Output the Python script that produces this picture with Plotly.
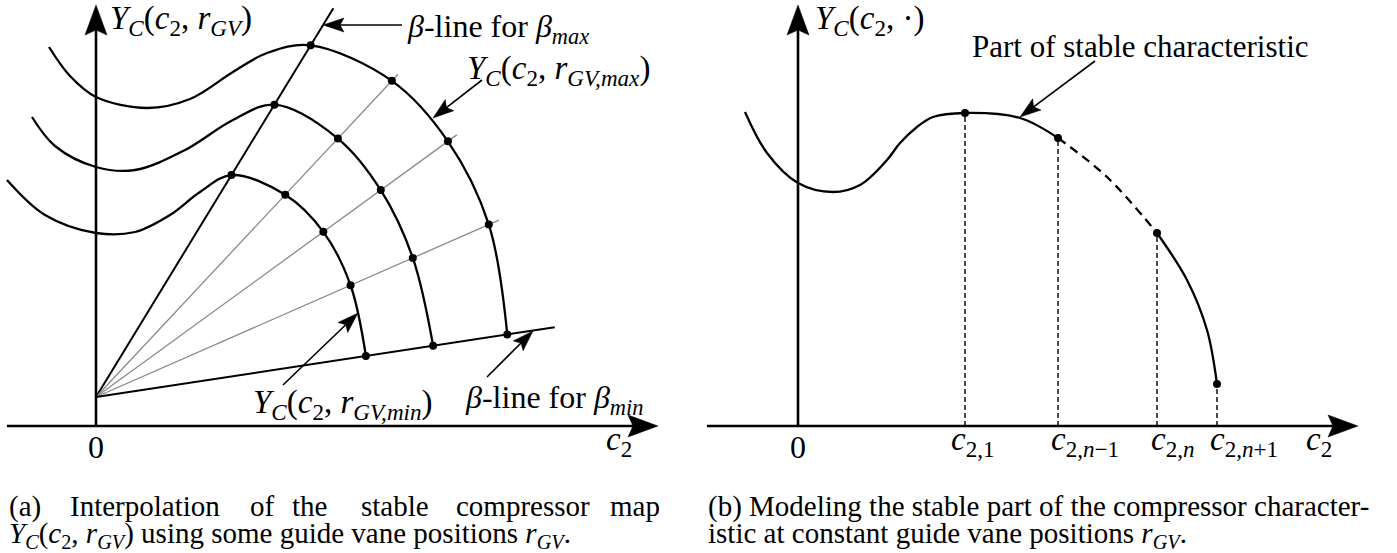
import math
import plotly.graph_objects as go

W, H = 1397, 553
FONT = "Liberation Serif"
FS_CAP = 29      # captions
FS_LAB = 32      # labels inside the diagrams
FS_MATH = 33     # formula labels

# ---------------- panel (a): interpolated compressor map ----------------
RAY_ORIGIN = (0.0, 0.29)
BETA_DEG = [58.6, 46.9, 36.0, 23.7, 8.65]          # beta_max ... beta_min
BETA_LEN = [4.555, 4.42, 4.46, 4.40, 4.64]
R_GV_MIN = [2.60, 2.77, 2.81, 2.78, 2.73]           # radius along each beta line
R_GV_MID = [3.425, 3.54, 3.52, 3.46, 3.41]
R_GV_MAX = [4.12, 4.33, 4.35, 4.29, 4.16]

# unstable branches left of the beta_max line
WAVE_MAX_X = [-0.47, -0.26, 0.0, 0.51, 0.94, 1.37, 1.71]
WAVE_MAX_Y = [3.79, 3.50, 3.29, 3.18, 3.27, 3.54, 3.73]
WAVE_MID_X = [-0.64, -0.41, 0.0, 0.39, 0.89, 1.37]
WAVE_MID_Y = [3.09, 2.80, 2.59, 2.56, 2.76, 3.06]
WAVE_MIN_X = [-0.89, -0.51, 0.0, 0.39, 0.74, 1.04]
WAVE_MIN_Y = [2.46, 2.11, 1.93, 1.94, 2.11, 2.34]

# ---------------- panel (b): single characteristic ----------------
CHAR_X = [-0.53, -0.31, 0.0, 0.35, 0.62, 0.89, 1.02, 1.19, 1.35, 1.67, 2.22, 2.60]
CHAR_Y = [3.14, 2.73, 2.43, 2.34, 2.41, 2.66, 2.83, 2.99, 3.09, 3.13, 3.08, 2.88]
GAP_X = [2.60, 3.09, 3.59]
GAP_Y = [2.88, 2.49, 1.93]
TAIL_X = [3.59, 3.89, 4.09, 4.19]
TAIL_Y = [1.93, 1.46, 0.96, 0.42]
NODE_X = [1.67, 2.60, 3.59, 4.19]
NODE_Y = [3.13, 2.88, 1.93, 0.42]
NODE_LABELS = ["<i>c</i><sub>2,1</sub>", "<i>c</i><sub>2,<i>n</i>−1</sub>",
               "<i>c</i><sub>2,<i>n</i></sub>", "<i>c</i><sub>2,<i>n</i>+1</sub>"]


def polar(r, deg):
    a = math.radians(deg)
    return RAY_ORIGIN[0] + r * math.cos(a), RAY_ORIGIN[1] + r * math.sin(a)


fig = go.Figure()
shapes = []


def add_line(xr, yr, x0, y0, x1, y1, width, color="black", dash="solid"):
    shapes.append(dict(type="line", xref=xr, yref=yr, x0=x0, y0=y0, x1=x1, y1=y1,
                       line=dict(color=color, width=width, dash=dash), layer="above"))


def add_arrow(xr, yr, tail, tip, L, Wd, notch, width):
    dx, dy = tip[0] - tail[0], tip[1] - tail[1]
    n = math.hypot(dx, dy)
    ux, uy = dx / n, dy / n
    nx, ny = -uy, ux
    bx, by = tip[0] - L * ux, tip[1] - L * uy
    mx, my = tip[0] - (L - notch) * ux, tip[1] - (L - notch) * uy
    add_line(xr, yr, tail[0], tail[1], mx, my, width)
    path = (f"M {tip[0]},{tip[1]} L {bx + Wd / 2 * nx},{by + Wd / 2 * ny} "
            f"L {mx},{my} L {bx - Wd / 2 * nx},{by - Wd / 2 * ny} Z")
    shapes.append(dict(type="path", xref=xr, yref=yr, path=path, fillcolor="black",
                       line=dict(color="black", width=0.5), layer="above"))


# beta lines
for i, (deg, ln) in enumerate(zip(BETA_DEG, BETA_LEN)):
    ex, ey = polar(ln, deg)
    black = i in (0, len(BETA_DEG) - 1)
    fig.add_trace(go.Scatter(x=[RAY_ORIGIN[0], ex], y=[RAY_ORIGIN[1], ey], mode="lines",
                             line=dict(color="black" if black else "#8a8a8a",
                                       width=2.0 if black else 1.3),
                             xaxis="x", yaxis="y", hoverinfo="skip"))

# characteristics for three guide vane positions
for wx, wy, radii in [(WAVE_MIN_X, WAVE_MIN_Y, R_GV_MIN),
                      (WAVE_MID_X, WAVE_MID_Y, R_GV_MID),
                      (WAVE_MAX_X, WAVE_MAX_Y, R_GV_MAX)]:
    pts = [polar(r, d) for r, d in zip(radii, BETA_DEG)]
    px = [p[0] for p in pts]
    py = [p[1] for p in pts]
    fig.add_trace(go.Scatter(x=list(wx) + px, y=list(wy) + py, mode="lines",
                             line=dict(color="black", width=2.3, shape="spline", smoothing=1.0),
                             xaxis="x", yaxis="y", hoverinfo="skip"))
    fig.add_trace(go.Scatter(x=px, y=py, mode="markers",
                             marker=dict(color="black", size=8),
                             xaxis="x", yaxis="y", hoverinfo="skip"))

# panel (b) curve pieces
fig.add_trace(go.Scatter(x=CHAR_X, y=CHAR_Y, mode="lines",
                         line=dict(color="black", width=2.3, shape="spline", smoothing=1.0),
                         xaxis="x2", yaxis="y2", hoverinfo="skip"))
fig.add_trace(go.Scatter(x=GAP_X, y=GAP_Y, mode="lines",
                         line=dict(color="black", width=2.3, shape="spline", dash="9px,6px"),
                         xaxis="x2", yaxis="y2", hoverinfo="skip"))
fig.add_trace(go.Scatter(x=TAIL_X, y=TAIL_Y, mode="lines",
                         line=dict(color="black", width=2.3, shape="spline"),
                         xaxis="x2", yaxis="y2", hoverinfo="skip"))
for nx_, ny_ in zip(NODE_X, NODE_Y):
    add_line("x2", "y2", nx_, 0, nx_, ny_, 1.4, dash="5px,3px")
fig.add_trace(go.Scatter(x=NODE_X, y=NODE_Y, mode="markers",
                         marker=dict(color="black", size=8),
                         xaxis="x2", yaxis="y2", hoverinfo="skip"))

# coordinate axes with arrow heads
for xr, yr, x_start, x_tip in [("x", "y", -0.89, 5.62), ("x2", "y2", -0.91, 5.60)]:
    add_arrow(xr, yr, (x_start, 0), (x_tip, 0), 0.30, 0.22, 0.05, 2.6)
    add_arrow(xr, yr, (0, 0), (0, 4.21), 0.30, 0.22, 0.05, 2.6)

# annotation arrows
ANN_ARROWS = [("x", "y", (3.06, 4.01), (2.27, 4.01)),
              ("x", "y", (3.86, 3.46), (3.37, 3.08)),
              ("x", "y", (1.87, 0.41), (2.62, 1.13)),
              ("x", "y", (3.91, 0.49), (4.37, 0.95)),
              ("x2", "y2", (2.97, 3.65), (2.22, 3.09))]
for xr, yr, tail, tip in ANN_ARROWS:
    add_arrow(xr, yr, tail, tip, 0.21, 0.14, 0.04, 1.6)

annotations = []


def text(xpx, ypx, s, anchor="left", size=FS_LAB):
    annotations.append(dict(x=xpx / W, y=1 - ypx / H, xref="paper", yref="paper", text=s,
                            showarrow=False, xanchor=anchor, yanchor="middle",
                            font=dict(family=FONT, size=size, color="black")))


YC = "<i>Y</i><sub><i>C</i></sub>"
text(108, 21, YC + "(<i>c</i><sub>2</sub>, <i>r</i><sub><i>GV</i></sub>)", size=FS_MATH)
text(405, 28, "<i>β</i>-line for <i>β</i><sub><i>max</i></sub>")
text(465, 70, YC + "(<i>c</i><sub>2</sub>, <i>r</i><sub><i>GV,max</i></sub>)", size=FS_MATH)
text(251, 404, YC + "(<i>c</i><sub>2</sub>, <i>r</i><sub><i>GV,min</i></sub>)", size=FS_MATH)
text(463, 399, "<i>β</i>-line for <i>β</i><sub><i>min</i></sub>")
text(96, 447, "0", anchor="center")
text(604, 441, "<i>c</i><sub>2</sub>", size=FS_MATH)

text(813, 21, YC + "(<i>c</i><sub>2</sub>, ·)", size=FS_MATH)
text(970, 46, "Part of stable characteristic", size=31)
text(798, 447, "0", anchor="center")
for lx, lab in zip([949, 1049, 1149, 1208], NODE_LABELS):
    text(lx, 441, lab, size=FS_MATH)
text(1304, 441, "<i>c</i><sub>2</sub>", size=FS_MATH)

# captions
CAP_A1 = [(7, "(a)"), (68, "Interpolation"), (248, "of"), (290, "the"), (359, "stable"),
          (454, "compressor"), (608, "map")]
for xw, w in CAP_A1:
    text(xw, 506, w, size=FS_CAP)
text(7, 535, YC + "(<i>c</i><sub>2</sub>, <i>r</i><sub><i>GV</i></sub>) using some guide vane positions <i>r</i><sub><i>GV</i></sub>.", size=FS_CAP)
text(706, 506, "(b) Modeling the stable part of the compressor character-", size=FS_CAP)
text(706, 535, "istic at constant guide vane positions <i>r</i><sub><i>GV</i></sub>.", size=FS_CAP)

fig.update_layout(
    width=W, height=H, autosize=False,
    margin=dict(l=0, r=0, t=0, b=0),
    paper_bgcolor="white", plot_bgcolor="white",
    showlegend=False,
    xaxis=dict(domain=[0, 0.5], range=[-0.96, 6.025], visible=False),
    yaxis=dict(domain=[0, 1], range=[-1.27, 4.26], visible=False),
    xaxis2=dict(domain=[0.5, 1], range=[-0.995, 5.99], visible=False, anchor="y2"),
    yaxis2=dict(domain=[0, 1], range=[-1.27, 4.26], visible=False, anchor="x2"),
    shapes=shapes,
    annotations=annotations,
)

fig.write_html("out.html")
